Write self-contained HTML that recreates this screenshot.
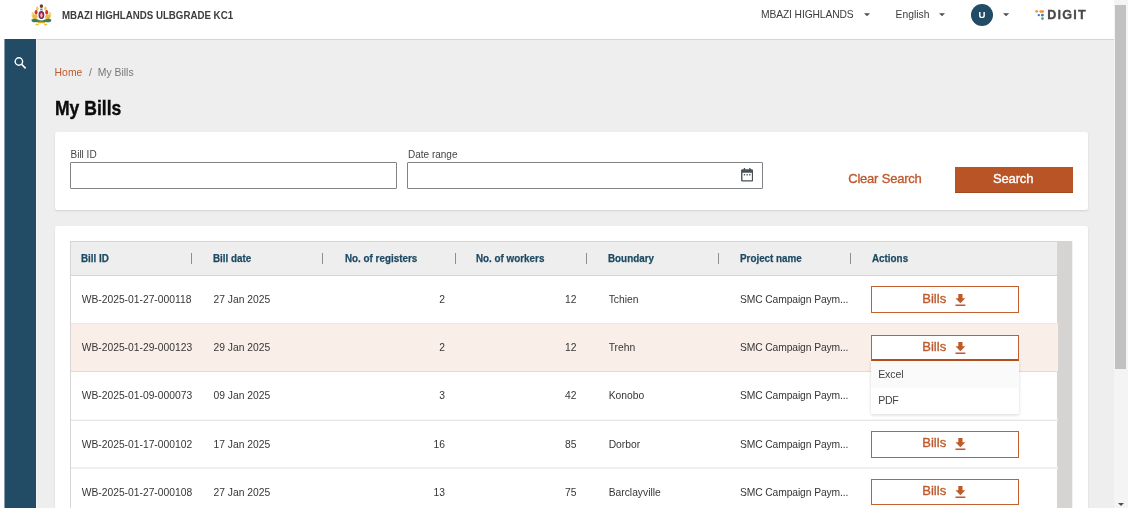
<!DOCTYPE html>
<html lang="en">
<head>
<meta charset="utf-8">
<title>My Bills</title>
<style>
*{box-sizing:border-box;margin:0;padding:0}
html,body{width:1134px;height:512px;overflow:hidden;background:#fff}
body{font-family:"Liberation Sans",sans-serif;color:#363636;position:relative}
.t{position:absolute;white-space:nowrap;line-height:1}
#page{position:absolute;left:0;top:0;width:1114px;height:508px;background:#eeeeee;overflow:hidden}
#leftstrip{position:absolute;left:0;top:0;width:4px;height:508px;background:#fff}
#header{position:absolute;left:0;top:0;width:1114px;height:39px;background:#fff;box-shadow:0 1px 0.5px rgba(0,0,0,.10)}
#sidebar{position:absolute;left:5px;top:39px;width:31px;height:469px;background:#224b65;box-shadow:-1px 0 0 #859caa, 1px 0 0 #f3f3f3}
#track{position:absolute;left:1114px;top:0;width:14px;height:508px;background:#f4f4f4}
#thumb{position:absolute;left:1115px;top:5px;width:11px;height:364px;background:#c1c1c1}
.card{position:absolute;background:#fff;border-radius:2.5px;box-shadow:0 1px 2px rgba(0,0,0,.12)}
.inp{position:absolute;border:1px solid #808285;border-radius:1px;background:#fff;height:26.5px;top:162px}
.lbl{color:#444}
.th{font-weight:700;color:#1d4a63;-webkit-text-stroke:0.25px #1d4a63}
.sep{position:absolute;width:1px;height:11px;top:253px;background:#8f8f8f}
.row{position:absolute;left:71px;width:987px}
.ln{position:absolute;left:71px;width:987px;height:1px}
.td{color:#363636}
.btn{position:absolute;left:871px;width:148px;border:1px solid #c2602f;background:#fff}
.bt{color:#be5a2c;-webkit-text-stroke:0.35px #be5a2c}
.hd{color:#3c3c3c}
</style>
</head>
<body>
<div id="page">
<div id="header"></div><div id="leftstrip"></div><div id="sidebar"></div>
<svg class="t" style="left:28px;top:0px" width="28" height="30" viewBox="28 0 28 30"><defs><filter id="eb" x="-10%" y="-10%" width="120%" height="120%"><feGaussianBlur stdDeviation="0.48"/></filter></defs><g filter="url(#eb)">
<ellipse cx="41.4" cy="6.100" rx="1.7" ry="1.9" fill="#7a3a26"/>
<rect x="40.2" y="8.6" width="2.4" height="1.8" fill="#4f8f8f"/>
<ellipse cx="37.300" cy="8.5" rx="1.2" ry="2" fill="#e8bf4a" opacity=".9"/>
<ellipse cx="45.5" cy="8.5" rx="1.2" ry="2" fill="#e8bf4a" opacity=".9"/>
<ellipse cx="36.1" cy="12.3" rx="1.5" ry="2.4" fill="#d43a26"/>
<ellipse cx="46.7" cy="12.3" rx="1.5" ry="2.4" fill="#d43a26"/>
<ellipse cx="32.8" cy="14.4" rx="1.3" ry="2.3" fill="#f0cf6a" opacity=".85"/>
<ellipse cx="50" cy="14.4" rx="1.3" ry="2.3" fill="#f0cf6a" opacity=".85"/>
<ellipse cx="35" cy="16.8" rx="2.7" ry="2.5" fill="#e5b63c" opacity=".9"/>
<ellipse cx="47.8" cy="16.8" rx="2.7" ry="2.5" fill="#e5b63c" opacity=".9"/>
<ellipse cx="41.4" cy="15" rx="2.9" ry="4.1" fill="#4a2f78"/>
<ellipse cx="41.4" cy="15.1" rx="2.1" ry="3.2" fill="#c22a3e"/>
<ellipse cx="41.4" cy="15.3" rx="1.050" ry="2.1" fill="#f3c6cc"/>
<path d="M31.3 19.800c2-1.400 4.500-1.200 6.500-.2 2.400 1.200 4.800 1.200 7.200 0 2-1 4.500-1.200 6.500.2l-.8 2c-2.600.9-5.800.3-8 .3h-2.600c-2.200 0-5.400.6-8-.3z" fill="#3c7f55"/>
<rect x="37.600" y="21.800" width="7.600" height="1.400" rx=".7" fill="#d6aa33"/>
<rect x="35.400" y="23.700" width="3.600" height="1.500" rx=".75" fill="#e9bf45"/>
<rect x="43.800" y="23.700" width="3.600" height="1.500" rx=".75" fill="#e9bf45"/>
</g></svg>

<span class="t hd" style="left:62.00px;top:10.09px;font-size:11px;font-weight:700;transform:scaleX(0.883);transform-origin:0 0;">MBAZI HIGHLANDS ULBGRADE KC1</span>
<span class="t hd" style="left:761.00px;top:10.28px;font-size:10.3px;letter-spacing:-0.12px;">MBAZI HIGHLANDS</span>
<span class="t hd" style="left:895.60px;top:10.28px;font-size:10.3px;">English</span>
<svg class="t" style="left:863.7px;top:13.1px" width="6.1" height="3.5" viewBox="0 0 10 5"><path d="M0 0h10L5 5z" fill="#4f4f4f"/></svg>
<svg class="t" style="left:939px;top:13.1px" width="6.1" height="3.5" viewBox="0 0 10 5"><path d="M0 0h10L5 5z" fill="#4f4f4f"/></svg>
<svg class="t" style="left:1002.5px;top:13.2px" width="6.1" height="3.7" viewBox="0 0 10 5"><path d="M0 0h10L5 5z" fill="#4f4f4f"/></svg>
<div class="t" style="left:971px;top:3.8px;width:22px;height:22px;border-radius:50%;background:#224b65"></div>
<span class="t " style="left:978.60px;top:9.97px;font-size:9.6px;font-weight:700;color:#fff;">U</span>
<svg class="t" style="left:1034px;top:8px" width="12" height="13" viewBox="0 0 12 13"><circle cx="2.7" cy="3.35" r="1.35" fill="#f0923c"/><rect x="5.4" y="2.15" width="4.7" height="2.5" rx="1.25" fill="#f0923c"/><circle cx="4.8" cy="7.1" r="1.2" fill="#2f7fd0"/><rect x="7.0" y="5.85" width="2.8" height="2.7" rx="1.2" fill="#2f7fd0"/><circle cx="8.45" cy="10.6" r="1.45" fill="#4cb648"/></svg>
<span class="t " style="left:1047.20px;top:8.83px;font-size:12.6px;font-weight:700;color:#48484a;letter-spacing:1.2px;-webkit-text-stroke:0.3px #48484a;">DIGIT</span>
<svg class="t" style="left:12px;top:54px" width="16" height="16" viewBox="0 0 16 16"><circle cx="6.9" cy="7.5" r="3.7" fill="none" stroke="#fff" stroke-width="1.4"/><path d="M9.6 10.3L13.6 14.4" stroke="#fff" stroke-width="1.6" stroke-linecap="butt"/></svg>
<span class="t " style="left:54.60px;top:67.70px;font-size:10.4px;color:#c0592b;">Home</span>
<span class="t " style="left:88.90px;top:67.70px;font-size:10.4px;color:#777;">/</span>
<span class="t " style="left:97.80px;top:67.70px;font-size:10.4px;color:#777;">My Bills</span>
<span class="t " style="left:54.60px;top:97.73px;font-size:20.4px;font-weight:700;color:#0b0c0c;-webkit-text-stroke:0.4px #0b0c0c;transform:scaleX(0.86);transform-origin:0 0;">My Bills</span>
<div class="card" style="left:54.6px;top:132px;width:1033.2px;height:78px"></div>
<span class="t lbl" style="left:70.50px;top:149.94px;font-size:10px;">Bill ID</span>
<span class="t lbl" style="left:408.00px;top:150.03px;font-size:10px;">Date range</span>
<div class="inp" style="left:70px;width:327px"></div>
<div class="inp" style="left:407.3px;width:355.4px"></div>
<svg class="t" style="left:740.6px;top:168.1px" width="12.3" height="13.5" viewBox="0 0 18 20"><path d="M4 0v2H2C.9 2 0 2.9 0 4v14c0 1.100.9 2 2 2h14c1.100 0 2-.9 2-2V4c0-1.100-.9-2-2-2h-2V0h-2v2H6V0H4zm12 18H2V7h14v11z" fill="#4a5257"/><rect x="4" y="9" width="2" height="2" fill="#4a5257"/><rect x="8" y="9" width="2" height="2" fill="#4a5257"/><rect x="12" y="9" width="2" height="2" fill="#4a5257"/></svg>
<span class="t bt" style="left:848.20px;top:171.90px;font-size:13px;letter-spacing:-0.2px;">Clear Search</span>
<div class="t" style="left:955px;top:167px;width:117.6px;height:26.3px;background:#b95426;box-shadow:inset 0 -1px 0 #a3481f"></div>
<span class="t " style="left:993.00px;top:172.20px;font-size:13px;color:#fff;-webkit-text-stroke:0.35px #fff;letter-spacing:-0.15px;">Search</span>
<div class="card" style="left:54.8px;top:225.5px;width:1033px;height:300px"></div>
<div class="t" style="left:70px;top:241px;width:988px;height:270px;background:#fff;border:1px solid #d6d5d4"></div>
<div class="t" style="left:70px;top:241px;width:988px;height:35px;background:#eeeeee;border:1px solid #d6d5d4"></div>
<div class="t" style="left:1058px;top:241px;width:14px;height:270px;background:#d5d4d3;box-shadow:1px 0 0 #f2f2f1"></div>
<span class="t th" style="left:81.40px;top:253.29px;font-size:11px;transform:scaleX(0.895);transform-origin:0 0;">Bill ID</span>
<span class="t th" style="left:213.20px;top:253.29px;font-size:11px;transform:scaleX(0.895);transform-origin:0 0;">Bill date</span>
<span class="t th" style="left:344.80px;top:253.29px;font-size:11px;transform:scaleX(0.895);transform-origin:0 0;">No. of registers</span>
<span class="t th" style="left:476.00px;top:253.29px;font-size:11px;transform:scaleX(0.895);transform-origin:0 0;">No. of workers</span>
<span class="t th" style="left:608.40px;top:253.29px;font-size:11px;transform:scaleX(0.895);transform-origin:0 0;">Boundary</span>
<span class="t th" style="left:739.60px;top:253.29px;font-size:11px;transform:scaleX(0.895);transform-origin:0 0;">Project name</span>
<span class="t th" style="left:871.70px;top:253.29px;font-size:11px;transform:scaleX(0.895);transform-origin:0 0;">Actions</span>
<div class="sep" style="left:190.8px"></div>
<div class="sep" style="left:322.4px"></div>
<div class="sep" style="left:455.1px"></div>
<div class="sep" style="left:586.4px"></div>
<div class="sep" style="left:718.0px"></div>
<div class="sep" style="left:849.7px"></div>
<span class="t td" style="left:81.70px;top:294.68px;font-size:10.3px;">WB-2025-01-27-000118</span>
<span class="t td" style="left:213.50px;top:294.68px;font-size:10.3px;">27 Jan 2025</span>
<span class="t td" style="right:669.00px;top:294.68px;font-size:10.3px;">2</span>
<span class="t td" style="right:537.50px;top:294.68px;font-size:10.3px;">12</span>
<span class="t td" style="left:608.70px;top:294.68px;font-size:10.3px;">Tchien</span>
<span class="t td" style="left:739.90px;top:294.68px;font-size:10.3px;letter-spacing:-0.1px;">SMC Campaign Paym...</span>
<div class="btn" style="top:286px;height:27px;"></div>
<span class="t bt" style="left:922.30px;top:291.50px;font-size:13px;">Bills</span>
<svg class="t" style="left:952.1px;top:291.5px" width="16.8" height="16.8" viewBox="0 0 24 24"><path d="M19 9h-4V3H9v6H5l7 7 7-7zM5 18v2h14v-2H5z" fill="#be5a2c"/></svg>
<div class="row" style="top:324px;height:47px;background:#f9eee8"></div>
<span class="t td" style="left:81.70px;top:342.88px;font-size:10.3px;">WB-2025-01-29-000123</span>
<span class="t td" style="left:213.50px;top:342.88px;font-size:10.3px;">29 Jan 2025</span>
<span class="t td" style="right:669.00px;top:342.88px;font-size:10.3px;">2</span>
<span class="t td" style="right:537.50px;top:342.88px;font-size:10.3px;">12</span>
<span class="t td" style="left:608.70px;top:342.88px;font-size:10.3px;">Trehn</span>
<span class="t td" style="left:739.90px;top:342.88px;font-size:10.3px;letter-spacing:-0.1px;">SMC Campaign Paym...</span>
<div class="btn" style="top:335px;height:26px;border-bottom:2px solid #b9501d;"></div>
<span class="t bt" style="left:922.30px;top:339.70px;font-size:13px;">Bills</span>
<svg class="t" style="left:952.1px;top:339.7px" width="16.8" height="16.8" viewBox="0 0 24 24"><path d="M19 9h-4V3H9v6H5l7 7 7-7zM5 18v2h14v-2H5z" fill="#be5a2c"/></svg>
<span class="t td" style="left:81.70px;top:391.18px;font-size:10.3px;">WB-2025-01-09-000073</span>
<span class="t td" style="left:213.50px;top:391.18px;font-size:10.3px;">09 Jan 2025</span>
<span class="t td" style="right:669.00px;top:391.18px;font-size:10.3px;">3</span>
<span class="t td" style="right:537.50px;top:391.18px;font-size:10.3px;">42</span>
<span class="t td" style="left:608.70px;top:391.18px;font-size:10.3px;">Konobo</span>
<span class="t td" style="left:739.90px;top:391.18px;font-size:10.3px;letter-spacing:-0.1px;">SMC Campaign Paym...</span>
<span class="t td" style="left:81.70px;top:439.68px;font-size:10.3px;">WB-2025-01-17-000102</span>
<span class="t td" style="left:213.50px;top:439.68px;font-size:10.3px;">17 Jan 2025</span>
<span class="t td" style="right:669.00px;top:439.68px;font-size:10.3px;">16</span>
<span class="t td" style="right:537.50px;top:439.68px;font-size:10.3px;">85</span>
<span class="t td" style="left:608.70px;top:439.68px;font-size:10.3px;">Dorbor</span>
<span class="t td" style="left:739.90px;top:439.68px;font-size:10.3px;letter-spacing:-0.1px;">SMC Campaign Paym...</span>
<div class="btn" style="top:431px;height:27px;"></div>
<span class="t bt" style="left:922.30px;top:436.10px;font-size:13px;">Bills</span>
<svg class="t" style="left:952.1px;top:436.1px" width="16.8" height="16.8" viewBox="0 0 24 24"><path d="M19 9h-4V3H9v6H5l7 7 7-7zM5 18v2h14v-2H5z" fill="#be5a2c"/></svg>
<span class="t td" style="left:81.70px;top:487.88px;font-size:10.3px;">WB-2025-01-27-000108</span>
<span class="t td" style="left:213.50px;top:487.88px;font-size:10.3px;">27 Jan 2025</span>
<span class="t td" style="right:669.00px;top:487.88px;font-size:10.3px;">13</span>
<span class="t td" style="right:537.50px;top:487.88px;font-size:10.3px;">75</span>
<span class="t td" style="left:608.70px;top:487.88px;font-size:10.3px;">Barclayville</span>
<span class="t td" style="left:739.90px;top:487.88px;font-size:10.3px;letter-spacing:-0.1px;">SMC Campaign Paym...</span>
<div class="btn" style="top:479px;height:26px;"></div>
<span class="t bt" style="left:922.30px;top:484.30px;font-size:13px;">Bills</span>
<svg class="t" style="left:952.1px;top:484.3px" width="16.8" height="16.8" viewBox="0 0 24 24"><path d="M19 9h-4V3H9v6H5l7 7 7-7zM5 18v2h14v-2H5z" fill="#be5a2c"/></svg>
<div class="ln" style="top:323px;background:#e9e9e9"></div>
<div class="ln" style="top:371px;background:#e3d9d5"></div>
<div class="ln" style="top:419px;background:#f5f5f5"></div>
<div class="ln" style="top:420px;background:#e7e7e7"></div>
<div class="ln" style="top:467px;background:#f0f0f0"></div>
<div class="ln" style="top:468px;background:#efefef"></div>
<div class="t" style="left:871px;top:361px;width:148px;height:53px;background:#fff;box-shadow:0 1px 3px rgba(0,0,0,.16)"><div style="height:26.5px;background:#fafafa"></div></div>
<span class="t " style="left:878.20px;top:369.03px;font-size:10.6px;color:#444;letter-spacing:-0.15px;">Excel</span>
<span class="t " style="left:878.20px;top:395.03px;font-size:10.6px;color:#444;letter-spacing:-0.3px;">PDF</span>
</div>
<div id="track"></div><div id="thumb"></div>
<svg class="t" style="left:1118px;top:503px" width="6" height="3" viewBox="0 0 10 5"><path d="M0 0h10L5 5z" fill="#505050"/></svg>
</body>
</html>
